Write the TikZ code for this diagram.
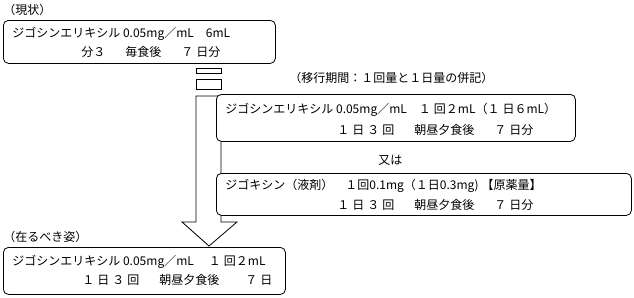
\documentclass[tikz,border=0pt]{standalone}
\usepackage{fontspec}
\setmainfont{Noto Sans CJK JP}
\newcommand{\wgap}{\hspace*{20pt}}
\newcommand{\ngap}{\hspace*{3pt}}
\begin{document}
\begin{tikzpicture}[
    x=1pt,y=-1pt,
    box/.style={draw,rounded corners=5pt,fill=white,line width=0.8pt,inner sep=0pt,anchor=north west},
    txt/.style={anchor=west,inner sep=0pt,font=\fontsize{12}{14}\selectfont},
    line width=0.8pt
]
\useasboundingbox (0,0) rectangle (634,297);

% present state
\node[txt] (nowlabel) at (3,10) {（現状）};
\node[box,minimum width=272pt,minimum height=43pt] (now) at (3,20) {};
\node[txt] (now1) at (12,34) {ジゴシンエリキシル 0.05mg／mL　6mL};
\node[txt] (now2) at (81,52) {分３\wgap 毎食後\wgap ７\ngap 日分};

% broken arrow
\draw (196,68) rectangle (221,73);
\draw (196,79) rectangle (221,89);
\draw[fill=white] (196,96) -- (221,96) -- (221,222) -- (237,222) -- (209,246)
    -- (182,222) -- (196,222) -- cycle;

% transition period
\node[txt] (translabel) at (289,78) {（移行期間：１回量と１日量の併記）};
\node[box,minimum width=359pt,minimum height=47pt] (trans) at (216,94) {};
\node[txt] (trans1) at (225,110) {ジゴシンエリキシル 0.05mg／mL　１\ngap 回２mL（１\ngap 日６mL）};
\node[txt] (trans2) at (337,130) {１\ngap 日\ngap ３\ngap 回\wgap 朝昼夕食後\wgap ７\ngap 日分};

\node[txt] (orlabel) at (378,160) {又は};
\node[box,minimum width=415pt,minimum height=42pt] (alt) at (216,173) {};
\node[txt] (alt1) at (225,186) {ジゴキシン（液剤）　１回0.1mg（１日0.3mg)\ngap【原薬量】};
\node[txt] (alt2) at (337,205) {１\ngap 日\ngap ３\ngap 回\wgap 朝昼夕食後\wgap ７\ngap 日分};

% target state
\node[txt] (goallabel) at (3,237) {（在るべき姿）};
\node[box,minimum width=282pt,minimum height=47pt] (goal) at (3,247) {};
\node[txt] (goal1) at (12,262) {ジゴシンエリキシル 0.05mg／mL　\ngap １\ngap 回２mL};
\node[txt] (goal2) at (82,280) {１\ngap 日\ngap ３\ngap 回\wgap 朝昼夕食後\hspace*{26pt}７\ngap 日};
\end{tikzpicture}
\end{document}
